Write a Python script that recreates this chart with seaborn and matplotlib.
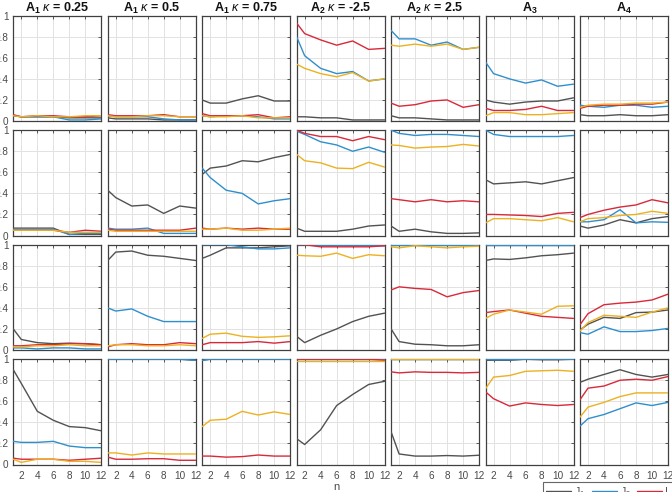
import numpy as np
import pandas as pd
import matplotlib
matplotlib.use("Agg")
import matplotlib.pyplot as plt
import seaborn as sns
from matplotlib.lines import Line2D

# ---------------- data ----------------
n = [1, 2, 4, 6, 8, 10, 12]
x_ticks = [2, 4, 6, 8, 10, 12]
y_ticks = [0, 0.2, 0.4, 0.6, 0.8, 1]
y_tick_labels = ["0", "0.2", "0.4", "0.6", "0.8", "1"]
titles = [r"$\mathbf{A_1}$ $\kappa$ = 0.25", r"$\mathbf{A_1}$ $\kappa$ = 0.5",
          r"$\mathbf{A_1}$ $\kappa$ = 0.75", r"$\mathbf{A_2}$ $\kappa$ = -2.5",
          r"$\mathbf{A_2}$ $\kappa$ = 2.5", r"$\mathbf{A_3}$", r"$\mathbf{A_4}$"]
series_names = ["J$_1$", "J$_2$", "I", "S"]
series_colors = ["#525252", "#2F8FCD", "#D8293A", "#EDB120"]
x_label = "n"

# row 1 (one list per column)
J1_row1 = [[0.05, 0.04, 0.04, 0.04, 0.03, 0.03, 0.03], [0.03, 0.02, 0.02, 0.02, 0.01, 0.01, 0.01],
           [0.20, 0.17, 0.17, 0.21, 0.24, 0.19, 0.19], [0.04, 0.04, 0.03, 0.03, 0.01, 0.01, 0.01],
           [0.05, 0.03, 0.03, 0.02, 0.01, 0.01, 0.01], [0.20, 0.18, 0.16, 0.18, 0.19, 0.19, 0.22],
           [0.06, 0.05, 0.05, 0.06, 0.05, 0.05, 0.06]]
J2_row1 = [[0.05, 0.04, 0.04, 0.04, 0.01, 0.01, 0.02], [0.05, 0.04, 0.04, 0.04, 0.02, 0.01, 0.01],
           [0.05, 0.04, 0.05, 0.05, 0.04, 0.02, 0.02], [0.80, 0.62, 0.50, 0.45, 0.47, 0.38, 0.40],
           [0.86, 0.78, 0.78, 0.72, 0.75, 0.68, 0.70], [0.56, 0.45, 0.40, 0.36, 0.39, 0.33, 0.35],
           [0.15, 0.14, 0.13, 0.15, 0.15, 0.13, 0.14]]
I_row1 = [[0.06, 0.04, 0.05, 0.05, 0.04, 0.04, 0.05], [0.06, 0.05, 0.05, 0.05, 0.06, 0.04, 0.04],
          [0.07, 0.05, 0.05, 0.05, 0.06, 0.03, 0.04], [0.93, 0.83, 0.77, 0.72, 0.76, 0.68, 0.69],
          [0.17, 0.14, 0.155, 0.19, 0.20, 0.13, 0.155], [0.12, 0.10, 0.10, 0.11, 0.14, 0.10, 0.10],
          [0.12, 0.14, 0.15, 0.15, 0.16, 0.16, 0.18]]
S_row1 = [[0.05, 0.04, 0.05, 0.04, 0.04, 0.05, 0.05], [0.05, 0.04, 0.04, 0.05, 0.05, 0.04, 0.04],
          [0.05, 0.04, 0.04, 0.05, 0.03, 0.03, 0.03], [0.54, 0.50, 0.45, 0.42, 0.46, 0.38, 0.40],
          [0.72, 0.71, 0.73, 0.71, 0.73, 0.68, 0.70], [0.05, 0.08, 0.08, 0.06, 0.06, 0.07, 0.08],
          [0.13, 0.15, 0.16, 0.16, 0.17, 0.17, 0.18]]

# row 2
J1_row2 = [[0.07, 0.07, 0.07, 0.07, 0.01, 0.01, 0.01], [0.43, 0.36, 0.28, 0.29, 0.21, 0.28, 0.26],
           [0.58, 0.64, 0.66, 0.71, 0.70, 0.74, 0.77], [0.07, 0.04, 0.04, 0.04, 0.06, 0.09, 0.10],
           [0.09, 0.04, 0.06, 0.035, 0.02, 0.02, 0.025], [0.53, 0.49, 0.50, 0.51, 0.49, 0.52, 0.55],
           [0.09, 0.07, 0.10, 0.15, 0.12, 0.16, 0.18]]
J2_row2 = [[0.06, 0.06, 0.06, 0.06, 0.01, 0.02, 0.02], [0.07, 0.06, 0.06, 0.07, 0.02, 0.02, 0.02],
           [0.64, 0.55, 0.43, 0.40, 0.30, 0.33, 0.35], [0.99, 0.96, 0.89, 0.86, 0.80, 0.84, 0.79],
           [1.00, 0.97, 0.95, 0.96, 0.96, 0.95, 0.94], [1.00, 0.96, 0.94, 0.94, 0.94, 0.94, 0.95],
           [0.13, 0.13, 0.15, 0.245, 0.12, 0.13, 0.125]]
I_row2 = [[0.05, 0.05, 0.05, 0.05, 0.03, 0.05, 0.04], [0.06, 0.05, 0.05, 0.05, 0.05, 0.05, 0.07],
          [0.07, 0.06, 0.07, 0.06, 0.07, 0.06, 0.06], [1.00, 0.97, 0.94, 0.94, 0.90, 0.94, 0.91],
          [0.35, 0.34, 0.32, 0.34, 0.32, 0.33, 0.32], [0.20, 0.20, 0.195, 0.19, 0.18, 0.21, 0.22],
          [0.17, 0.20, 0.24, 0.27, 0.29, 0.34, 0.31]]
S_row2 = [[0.05, 0.05, 0.05, 0.05, 0.03, 0.03, 0.03], [0.05, 0.04, 0.04, 0.04, 0.04, 0.04, 0.04],
          [0.06, 0.06, 0.07, 0.05, 0.05, 0.06, 0.07], [0.77, 0.71, 0.69, 0.64, 0.635, 0.695, 0.65],
          [0.86, 0.855, 0.83, 0.84, 0.845, 0.865, 0.85], [0.12, 0.16, 0.16, 0.15, 0.14, 0.17, 0.13],
          [0.13, 0.16, 0.17, 0.19, 0.20, 0.23, 0.21]]

# row 3
J1_row3 = [[0.20, 0.10, 0.07, 0.06, 0.065, 0.06, 0.05], [0.85, 0.93, 0.94, 0.90, 0.89, 0.87, 0.85],
           [0.87, 0.90, 0.97, 0.97, 0.97, 0.98, 0.99], [0.13, 0.07, 0.14, 0.20, 0.27, 0.32, 0.35],
           [0.20, 0.08, 0.055, 0.05, 0.04, 0.04, 0.05], [0.85, 0.865, 0.86, 0.875, 0.895, 0.905, 0.92],
           [0.19, 0.245, 0.31, 0.30, 0.355, 0.36, 0.38]]
J2_row3 = [[0.02, 0.02, 0.01, 0.02, 0.02, 0.01, 0.01], [0.40, 0.37, 0.39, 0.32, 0.27, 0.27, 0.27],
           [1.00, 1.00, 1.00, 0.98, 0.96, 0.96, 0.97], [1.00, 1.00, 0.99, 0.99, 0.99, 0.99, 0.99],
           [1.00, 1.00, 1.00, 1.00, 1.00, 1.00, 1.00], [1.00, 1.00, 1.00, 1.00, 1.00, 1.00, 1.00],
           [0.165, 0.15, 0.22, 0.175, 0.175, 0.185, 0.205]]
I_row3 = [[0.04, 0.04, 0.05, 0.05, 0.06, 0.06, 0.05], [0.03, 0.05, 0.06, 0.05, 0.05, 0.07, 0.06],
          [0.05, 0.07, 0.07, 0.07, 0.08, 0.065, 0.08], [1.00, 1.00, 0.98, 0.98, 0.98, 0.98, 0.99],
          [0.57, 0.60, 0.585, 0.575, 0.505, 0.545, 0.565], [0.355, 0.365, 0.38, 0.35, 0.32, 0.31, 0.30],
          [0.24, 0.345, 0.43, 0.445, 0.455, 0.475, 0.53]]
S_row3 = [[0.03, 0.03, 0.04, 0.04, 0.05, 0.04, 0.04], [0.04, 0.05, 0.05, 0.04, 0.04, 0.05, 0.04],
          [0.11, 0.15, 0.16, 0.13, 0.12, 0.125, 0.135], [0.90, 0.895, 0.89, 0.92, 0.87, 0.905, 0.895],
          [0.98, 0.97, 0.99, 0.98, 0.97, 0.98, 0.985], [0.30, 0.34, 0.38, 0.36, 0.34, 0.415, 0.42],
          [0.18, 0.26, 0.33, 0.32, 0.31, 0.36, 0.40]]

# row 4
J1_row4 = [[0.90, 0.77, 0.505, 0.42, 0.36, 0.35, 0.32], [1.00, 1.00, 1.00, 1.00, 1.00, 1.00, 0.99],
           [0.99, 1.00, 1.00, 1.00, 1.00, 1.00, 1.00], [0.245, 0.19, 0.33, 0.56, 0.665, 0.76, 0.79],
           [0.31, 0.10, 0.08, 0.08, 0.085, 0.08, 0.088], [0.99, 0.99, 0.99, 1.00, 0.995, 0.995, 1.00],
           [0.78, 0.81, 0.855, 0.90, 0.855, 0.83, 0.855]]
J2_row4 = [[0.22, 0.21, 0.21, 0.22, 0.175, 0.16, 0.16], [1.00, 1.00, 1.00, 1.00, 1.00, 1.00, 0.99],
           [0.99, 1.00, 1.00, 1.00, 1.00, 1.00, 1.00], [1.00, 1.00, 1.00, 1.00, 1.00, 1.00, 1.00],
           [1.00, 1.00, 1.00, 1.00, 1.00, 1.00, 1.00], [1.00, 0.995, 0.995, 1.00, 1.00, 1.00, 1.00],
           [0.365, 0.435, 0.475, 0.53, 0.585, 0.56, 0.59]]
I_row4 = [[0.06, 0.05, 0.05, 0.05, 0.04, 0.05, 0.06], [0.07, 0.05, 0.05, 0.055, 0.055, 0.04, 0.04],
          [0.08, 0.08, 0.07, 0.075, 0.09, 0.08, 0.08], [1.00, 1.00, 1.00, 1.00, 1.00, 1.00, 0.99],
          [0.88, 0.87, 0.88, 0.875, 0.875, 0.87, 0.875], [0.69, 0.625, 0.555, 0.585, 0.57, 0.56, 0.57],
          [0.615, 0.725, 0.745, 0.80, 0.81, 0.80, 0.835]]
S_row4 = [[0.05, 0.02, 0.05, 0.05, 0.03, 0.03, 0.02], [0.11, 0.11, 0.09, 0.11, 0.10, 0.10, 0.10],
          [0.36, 0.42, 0.43, 0.505, 0.47, 0.50, 0.475], [0.98, 0.98, 0.98, 0.98, 0.98, 0.98, 0.98],
          [1.00, 1.00, 1.00, 1.00, 1.00, 1.00, 1.00], [0.72, 0.83, 0.845, 0.885, 0.89, 0.895, 0.885],
          [0.45, 0.545, 0.59, 0.645, 0.68, 0.68, 0.68]]

rows = [
    [J1_row1, J2_row1, I_row1, S_row1],
    [J1_row2, J2_row2, I_row2, S_row2],
    [J1_row3, J2_row3, I_row3, S_row3],
    [J1_row4, J2_row4, I_row4, S_row4],
]

# ---------------- figure ----------------
sns.set_style("white")
plt.rcParams["font.family"] = ["Liberation Sans", "DejaVu Sans"]
plt.rcParams["mathtext.fontset"] = "custom"
plt.rcParams["mathtext.rm"] = "Liberation Sans"
plt.rcParams["mathtext.it"] = "Liberation Sans:italic"
plt.rcParams["mathtext.bf"] = "Liberation Sans:bold"

W, H = 672, 492
fig = plt.figure(figsize=(W / 100, H / 100), dpi=100)

col_left = [13.3 + 94.45 * i for i in range(7)]
ax_w = 88.0
row_top = [15.7 + 114.5 * j for j in range(4)]
ax_h = 105.3
spine_c = "#404040"
text_c = "#4a4a4a"

for r, row_series in enumerate(rows):
    for c in range(7):
        ax = fig.add_axes([col_left[c] / W, 1 - (row_top[r] + ax_h) / H, ax_w / W, ax_h / H])
        for s, ser in enumerate(row_series):
            df = pd.DataFrame({"n": n, "v": ser[c]})
            sns.lineplot(data=df, x="n", y="v", ax=ax, color=series_colors[s],
                         linewidth=1.0, legend=False, zorder=3 + s)
        ax.set_xlim(1, 12)
        ax.set_ylim(0, 1)
        ax.set_xticks(x_ticks)
        ax.set_yticks(y_ticks)
        ax.grid(True, color="#e2e2e2", linewidth=0.7, zorder=0)
        ax.set_axisbelow(True)
        ax.tick_params(direction="in", length=2.5, width=0.6, top=True, right=True,
                       colors=spine_c, labelcolor=text_c, labelsize=7.2, pad=3.5)
        ax.tick_params(axis="x", pad=5)
        for sp in ax.spines.values():
            sp.set_visible(True)
            sp.set_color(spine_c)
            sp.set_linewidth(0.9)
        ax.set_xlabel("")
        ax.set_ylabel("")
        if c == 0:
            ax.set_yticklabels(y_tick_labels)
        else:
            ax.set_yticklabels([])
        if r == 3:
            ax.set_xticklabels([str(t) for t in x_ticks])
        else:
            ax.set_xticklabels([])
        if r == 0:
            ax.set_title(titles[c], fontsize=9, fontweight="bold", color="#111111", pad=2.5)

fig.text(336 / W, 1 - 487 / H, x_label, ha="center", va="center", fontsize=8, color=text_c)

handles = [Line2D([0], [0], color=col, lw=1.0) for col in series_colors]
leg = fig.legend(handles, series_names, loc="upper left",
                 bbox_to_anchor=(543 / W, 1 - 482 / H), ncol=4, frameon=True,
                 fancybox=False, fontsize=7.5, handlelength=2.4, handletextpad=0.3,
                 columnspacing=0.6, borderpad=0.3, borderaxespad=0)
leg.get_frame().set_edgecolor(spine_c)
leg.get_frame().set_linewidth(0.8)
for t in leg.get_texts():
    t.set_color(text_c)

fig.savefig("out.png", dpi=100)
